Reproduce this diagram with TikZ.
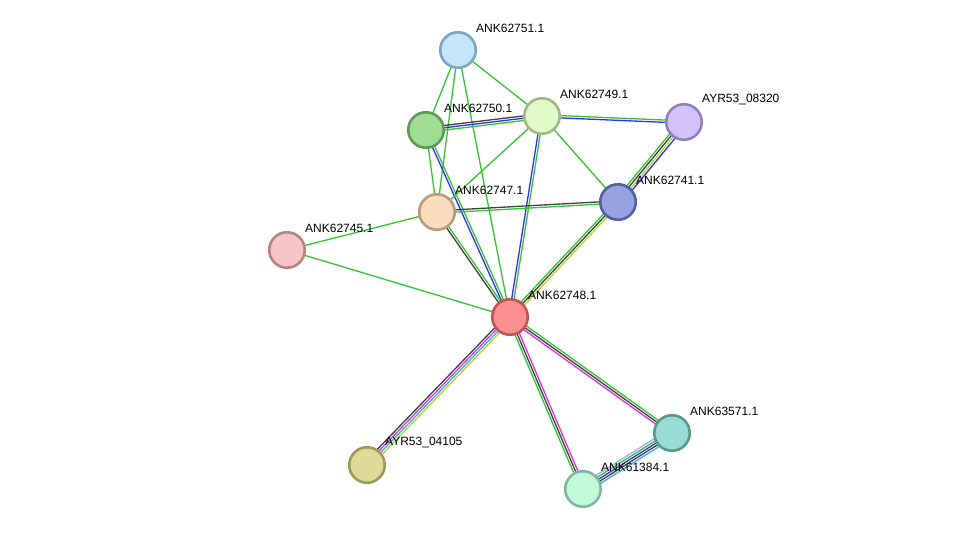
\documentclass[tikz,border=0pt]{standalone}
\usepackage{fontspec}
\setmainfont{Liberation Sans}
\usetikzlibrary{calc}
\pgfdeclarelayer{bg}
\pgfsetlayers{bg,main}
\definecolor{eg}{HTML}{33C433}
\definecolor{eb}{HTML}{3030F0}
\definecolor{ek}{HTML}{404040}
\definecolor{em}{HTML}{DD33DD}
\definecolor{ec}{HTML}{33B5E0}
\definecolor{ey}{HTML}{B8D62A}
\definecolor{el}{HTML}{A8A8F8}
\newcommand{\mylink}[4]{%
  \foreach \c [count=\i] in {#4}{%
    \pgfmathsetmacro\off{(\i-(#3+1)/2)*2.3}%
    \draw[edge,\c] ($(#1.center)!\off pt!90:(#2.center)$) -- ($(#2.center)!\off pt!-90:(#1.center)$);
  }}
\tikzset{
  prot/.style={circle, minimum size=35.5, inner sep=0, line width=2.6},
  lbl/.style={anchor=west, inner sep=0, font=\fontsize{12}{14}\selectfont},
  edge/.style={line width=1.3}
}
\begin{document}
\begin{tikzpicture}[x=1pt,y=-1pt]
\useasboundingbox (0,0) rectangle (975,534);
\node[prot, fill={rgb,255:red,195;green,230;blue,251}, draw={rgb,255:red,123;green,164;blue,192}] (n51) at (458,50) {};
\node[prot, fill={rgb,255:red,160;green,221;blue,148}, draw={rgb,255:red,95;green,154;blue,85}] (n50) at (426,130) {};
\node[prot, fill={rgb,255:red,224;green,251;blue,197}, draw={rgb,255:red,160;green,184;blue,132}] (n49) at (542,116) {};
\node[prot, fill={rgb,255:red,211;green,194;blue,251}, draw={rgb,255:red,144;green,128;blue,192}] (n20) at (684,122) {};
\node[prot, fill={rgb,255:red,152;green,162;blue,224}, draw={rgb,255:red,80;green,96;blue,160}] (n41) at (618,202) {};
\node[prot, fill={rgb,255:red,252;green,220;blue,188}, draw={rgb,255:red,184;green,154;blue,124}] (n47) at (437,212) {};
\node[prot, fill={rgb,255:red,245;green,198;blue,198}, draw={rgb,255:red,184;green,130;blue,130}] (n45) at (287,250) {};
\node[prot, fill={rgb,255:red,252;green,144;blue,144}, draw={rgb,255:red,192;green,85;blue,85}] (n48) at (510,317) {};
\node[prot, fill={rgb,255:red,222;green,219;blue,152}, draw={rgb,255:red,156;green,154;blue,88}] (n05) at (367,465) {};
\node[prot, fill={rgb,255:red,152;green,221;blue,213}, draw={rgb,255:red,86;green,153;blue,143}] (n71) at (672,433) {};
\node[prot, fill={rgb,255:red,194;green,251;blue,218}, draw={rgb,255:red,130;green,184;blue,154}] (n84) at (583,489) {};

\node[lbl] (l51) at ($(n51.center)+(18,-22)$) {ANK62751.1};
\node[lbl] (l50) at ($(n50.center)+(18,-22)$) {ANK62750.1};
\node[lbl] (l49) at ($(n49.center)+(18,-22)$) {ANK62749.1};
\node[lbl] (l20) at ($(n20.center)+(18,-22)$) {AYR53\_08320};
\node[lbl] (l41) at ($(n41.center)+(18,-22)$) {ANK62741.1};
\node[lbl] (l47) at ($(n47.center)+(18,-22)$) {ANK62747.1};
\node[lbl] (l45) at ($(n45.center)+(18,-22)$) {ANK62745.1};
\node[lbl] (l48) at ($(n48.center)+(18,-22)$) {ANK62748.1};
\node[lbl] (l05) at ($(n05.center)+(18,-22)$) {AYR53\_04105};
\node[lbl] (l71) at ($(n71.center)+(18,-22)$) {ANK63571.1};
\node[lbl] (l84) at ($(n84.center)+(18,-22)$) {ANK61384.1};

\begin{pgfonlayer}{bg}
\mylink{n51}{n50}{1}{eg}
\mylink{n51}{n47}{1}{eg}
\mylink{n51}{n48}{1}{eg}
\mylink{n51}{n49}{1}{eg}
\mylink{n50}{n49}{3}{eg,eb,ek}
\mylink{n50}{n47}{1}{eg}
\mylink{n50}{n48}{2}{eb,eg}
\mylink{n49}{n20}{2}{eb,eg}
\mylink{n49}{n41}{1}{eg}
\mylink{n49}{n47}{1}{eg}
\mylink{n49}{n48}{2}{eb,eg}
\mylink{n41}{n20}{4}{eb,ey,ek,eg}
\mylink{n47}{n41}{2}{eg,ek}
\mylink{n48}{n41}{3}{ey,ek,eg}
\mylink{n45}{n47}{1}{eg}
\mylink{n47}{n48}{2}{ek,eg}
\mylink{n45}{n48}{1}{eg}
\mylink{n05}{n48}{4}{ey,ec,em,ek}
\mylink{n48}{n71}{3}{em,ek,eg}
\mylink{n48}{n84}{3}{eg,ek,em}
\mylink{n84}{n71}{5}{ec,ek,eb,eg,el}
\end{pgfonlayer}
\end{tikzpicture}
\end{document}
